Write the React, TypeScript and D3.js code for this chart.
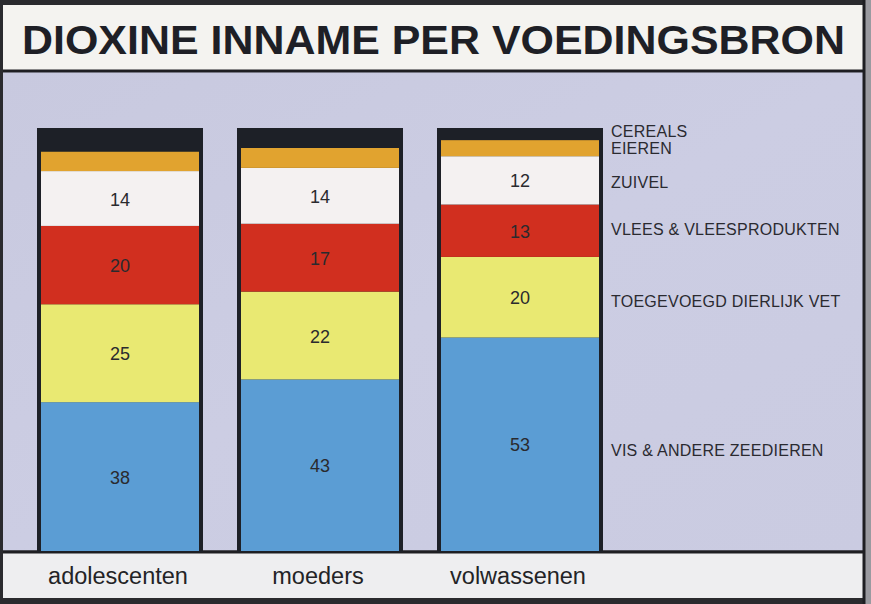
import React from "react";
import * as d3 from "d3";

const title = "DIOXINE INNAME PER VOEDINGSBRON";
const categories = ["adolescenten", "moeders", "volwassenen"];
const sources = [
  "VIS & ANDERE ZEEDIEREN",
  "TOEGEVOEGD DIERLIJK VET",
  "VLEES & VLEESPRODUKTEN",
  "ZUIVEL",
  "EIEREN",
  "CEREALS",
];
// values per source, in the order of categories
const visValues = [38, 43, 53];
const vetValues = [25, 22, 20];
const vleesValues = [20, 17, 13];
const zuivelValues = [14, 14, 12];
const eierenValues = [5, 5, 4];
const cerealsValues = [6, 5, 3];
const labelled = ["VIS & ANDERE ZEEDIEREN", "TOEGEVOEGD DIERLIJK VET", "VLEES & VLEESPRODUKTEN", "ZUIVEL"];

const colors: Record<string, string> = {
  "VIS & ANDERE ZEEDIEREN": "#5b9dd4",
  "TOEGEVOEGD DIERLIJK VET": "#e9e972",
  "VLEES & VLEESPRODUKTEN": "#d12f1f",
  "ZUIVEL": "#f4f1f1",
  "EIEREN": "#e1a32f",
  "CEREALS": "#1d2027",
};

const W = 871;
const H = 604;

export default function App() {
  const seriesValues = [visValues, vetValues, vleesValues, zuivelValues, eierenValues, cerealsValues];
  const rows = categories.map((c, i) => {
    const r: any = { category: c };
    sources.forEach((s, j) => (r[s] = seriesValues[j][i]));
    return r;
  });
  const stacked = d3.stack<any>().keys(sources).offset(d3.stackOffsetExpand)(rows);

  const x = d3.scaleBand<string>().domain(categories).range([20, 620]).paddingInner(0.17).paddingOuter(0.085);
  const y = d3.scaleLinear().domain([0, 1]).range([551, 128]);
  const bw = x.bandwidth();
  const border = 4;
  const font = "'Liberation Sans', Arial, Helvetica, sans-serif";
  const lastCat = categories[categories.length - 1];
  const legendNudge: Record<string, number> = {
    "CEREALS": -2,
    "EIEREN": 1,
    "ZUIVEL": 3,
    "VLEES & VLEESPRODUKTEN": -1,
    "TOEGEVOEGD DIERLIJK VET": 5,
    "VIS & ANDERE ZEEDIEREN": 7,
  };

  return (
    <svg width={W} height={H} style={{ position: "absolute", left: 0, top: 0, display: "block" }}>
      <defs>
        <linearGradient id="bg" x1="0" y1="0" x2="1" y2="1">
          <stop offset="0" stopColor="#c8c9df" />
          <stop offset="0.5" stopColor="#cccde3" />
          <stop offset="1" stopColor="#cacbe1" />
        </linearGradient>
      </defs>
      {/* outer frame */}
      <rect x={0} y={0} width={W} height={H} fill="#2a2a2e" />
      {/* title banner */}
      <rect x={3} y={5} width={860} height={66} fill="#f4f3f0" />
      <line x1={3} x2={863} y1={71} y2={71} stroke="#1e1e22" strokeWidth={3} />
      {/* plot background */}
      <rect x={3} y={72.5} width={860} height={478} fill="url(#bg)" />
      {/* bottom band */}
      <rect x={3} y={551} width={860} height={47} fill="#eeeef0" />
      <line x1={3} x2={863} y1={552} y2={552} stroke="#1e1e22" strokeWidth={3} />
      <rect x={863} y={0} width={8} height={H} fill="#9a9aa0" />
      <line x1={864} x2={864} y1={0} y2={H} stroke="#1e1e22" strokeWidth={3} />

      <text
        x={22}
        y={54}
        fontFamily={font}
        fontWeight="bold"
        fontSize={40}
        fill="#1e1f26"
        textLength={823}
        lengthAdjust="spacingAndGlyphs"
      >
        {title}
      </text>

      {categories.map((c) => (
        <rect key={"frame-" + c} x={x(c)} y={y(1)} width={bw} height={y(0) - y(1) + 1} fill="#1d2027" />
      ))}

      {stacked.map((layer) =>
        layer.map((d, i) => {
          const c = categories[i];
          const y0 = y(d[1]);
          const y1 = y(d[0]);
          return (
            <rect
              key={layer.key + c}
              x={(x(c) as number) + border}
              y={y0}
              width={bw - 2 * border}
              height={Math.max(0, y1 - y0)}
              fill={colors[layer.key]}
            />
          );
        })
      )}

      {stacked
        .filter((layer) => labelled.includes(layer.key))
        .map((layer) =>
          layer.map((d, i) => {
            const c = categories[i];
            const cy = (y(d[0]) + y(d[1])) / 2;
            return (
              <text
                key={"v" + layer.key + c}
                x={(x(c) as number) + bw / 2}
                y={cy + 7}
                textAnchor="middle"
                fontFamily={font}
                fontSize={18}
                fill="#2a2a2e"
              >
                {(d.data as any)[layer.key]}
              </text>
            );
          })
        )}

      {stacked.map((layer) => {
        const d = layer[categories.indexOf(lastCat)];
        const cy = (y(d[0]) + y(d[1])) / 2;
        return (
          <text
            key={"lg" + layer.key}
            x={(x(lastCat) as number) + bw + 8}
            y={cy + 5 + (legendNudge[layer.key] || 0)}
            fontFamily={font}
            fontSize={16}
            letterSpacing={0.25}
            fill="#2a2a30"
          >
            {layer.key}
          </text>
        );
      })}

      {categories.map((c) => (
        <text
          key={"cat" + c}
          x={(x(c) as number) + bw / 2 - 2}
          y={584}
          textAnchor="middle"
          fontFamily={font}
          fontSize={23.5}
          fill="#232326"
        >
          {c}
        </text>
      ))}
    </svg>
  );
}
